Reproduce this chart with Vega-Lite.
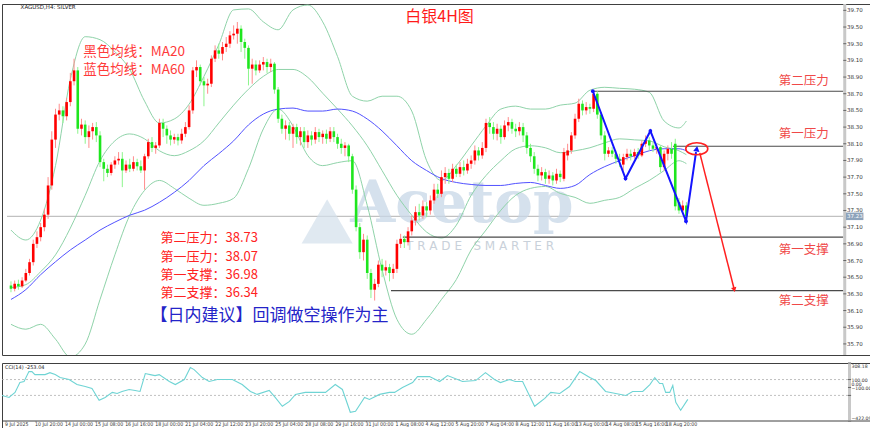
{
"$schema": "https://vega.github.io/schema/vega-lite/v6.json",
"padding": {"left": 1, "top": 2, "right": 0, "bottom": 0},
"background": "#ffffff",
"spacing": 4,
"config": {
  "view": {"stroke": "#404040", "strokeWidth": 1}
},
"datasets": {
  "candles": [
{"i":0,"o":36.40,"h":36.45,"l":36.32,"c":36.36},{"i":1,"o":36.36,"h":36.46,"l":36.33,"c":36.42},{"i":2,"o":36.42,"h":36.47,"l":36.35,"c":36.39},{"i":3,"o":36.39,"h":36.50,"l":36.37,"c":36.46},{"i":4,"o":36.46,"h":36.60,"l":36.44,"c":36.55},
{"i":5,"o":36.55,"h":36.72,"l":36.52,"c":36.68},{"i":6,"o":36.68,"h":36.95,"l":36.64,"c":36.90},{"i":7,"o":36.90,"h":37.05,"l":36.85,"c":36.98},{"i":8,"o":36.98,"h":37.15,"l":36.93,"c":37.10},{"i":9,"o":37.10,"h":37.32,"l":37.05,"c":37.25},
{"i":10,"o":37.25,"h":37.70,"l":37.20,"c":37.60},{"i":11,"o":37.60,"h":38.25,"l":37.55,"c":38.15},{"i":12,"o":38.15,"h":38.52,"l":38.05,"c":38.45},{"i":13,"o":38.45,"h":38.58,"l":38.38,"c":38.50},{"i":14,"o":38.50,"h":38.55,"l":38.35,"c":38.43},
{"i":15,"o":38.43,"h":38.65,"l":38.38,"c":38.60},{"i":16,"o":38.60,"h":38.95,"l":38.55,"c":38.85},{"i":17,"o":38.85,"h":39.12,"l":38.80,"c":38.98},{"i":18,"o":38.98,"h":39.02,"l":38.22,"c":38.28},{"i":19,"o":38.28,"h":38.40,"l":38.20,"c":38.33},
{"i":20,"o":38.33,"h":38.38,"l":38.10,"c":38.18},{"i":21,"o":38.18,"h":38.32,"l":38.05,"c":38.25},{"i":22,"o":38.25,"h":38.35,"l":38.15,"c":38.30},{"i":23,"o":38.30,"h":38.36,"l":38.12,"c":38.20},{"i":24,"o":38.20,"h":38.25,"l":37.82,"c":37.88},
{"i":25,"o":37.88,"h":37.92,"l":37.65,"c":37.80},{"i":26,"o":37.80,"h":37.85,"l":37.70,"c":37.75},{"i":27,"o":37.75,"h":37.88,"l":37.72,"c":37.85},{"i":28,"o":37.85,"h":37.95,"l":37.80,"c":37.90},{"i":29,"o":37.90,"h":38.00,"l":37.85,"c":37.92},
{"i":30,"o":37.92,"h":38.00,"l":37.58,"c":37.78},{"i":31,"o":37.78,"h":37.90,"l":37.75,"c":37.85},{"i":32,"o":37.85,"h":37.92,"l":37.76,"c":37.80},{"i":33,"o":37.80,"h":37.95,"l":37.77,"c":37.88},{"i":34,"o":37.88,"h":37.92,"l":37.78,"c":37.83},
{"i":35,"o":37.83,"h":37.90,"l":37.75,"c":37.78},{"i":36,"o":37.78,"h":37.98,"l":37.55,"c":37.95},{"i":37,"o":37.95,"h":38.16,"l":37.92,"c":38.12},{"i":38,"o":38.12,"h":38.18,"l":38.00,"c":38.05},{"i":39,"o":38.05,"h":38.12,"l":37.98,"c":38.08},
{"i":40,"o":38.08,"h":38.40,"l":38.05,"c":38.35},{"i":41,"o":38.35,"h":38.40,"l":38.18,"c":38.28},{"i":42,"o":38.28,"h":38.32,"l":38.10,"c":38.20},{"i":43,"o":38.20,"h":38.26,"l":38.08,"c":38.15},{"i":44,"o":38.15,"h":38.22,"l":38.10,"c":38.18},
{"i":45,"o":38.18,"h":38.22,"l":38.08,"c":38.14},{"i":46,"o":38.14,"h":38.28,"l":38.10,"c":38.22},{"i":47,"o":38.22,"h":38.36,"l":38.18,"c":38.30},{"i":48,"o":38.30,"h":38.56,"l":38.27,"c":38.50},{"i":49,"o":38.50,"h":39.02,"l":38.46,"c":38.98},
{"i":50,"o":38.98,"h":39.10,"l":38.90,"c":39.02},{"i":51,"o":39.02,"h":39.05,"l":38.80,"c":38.85},{"i":52,"o":38.85,"h":38.90,"l":38.55,"c":38.80},{"i":53,"o":38.80,"h":38.88,"l":38.70,"c":38.82},{"i":54,"o":38.82,"h":39.16,"l":38.78,"c":39.12},
{"i":55,"o":39.12,"h":39.28,"l":39.08,"c":39.22},{"i":56,"o":39.22,"h":39.30,"l":39.12,"c":39.18},{"i":57,"o":39.18,"h":39.32,"l":39.10,"c":39.26},{"i":58,"o":39.26,"h":39.38,"l":39.20,"c":39.30},{"i":59,"o":39.30,"h":39.45,"l":39.25,"c":39.40},
{"i":60,"o":39.40,"h":39.52,"l":39.35,"c":39.42},{"i":61,"o":39.42,"h":39.56,"l":39.30,"c":39.48},{"i":62,"o":39.48,"h":39.52,"l":39.20,"c":39.32},{"i":63,"o":39.32,"h":39.36,"l":39.12,"c":39.25},{"i":64,"o":39.25,"h":39.28,"l":38.80,"c":39.00},
{"i":65,"o":39.00,"h":39.12,"l":38.82,"c":39.05},{"i":66,"o":39.05,"h":39.10,"l":38.92,"c":38.98},{"i":67,"o":38.98,"h":39.10,"l":38.95,"c":39.05},{"i":68,"o":39.05,"h":39.14,"l":38.98,"c":39.08},{"i":69,"o":39.08,"h":39.12,"l":38.95,"c":39.02},
{"i":70,"o":39.02,"h":39.12,"l":38.96,"c":39.06},{"i":71,"o":39.06,"h":39.08,"l":38.70,"c":38.75},{"i":72,"o":38.75,"h":38.78,"l":38.35,"c":38.40},{"i":73,"o":38.40,"h":38.45,"l":38.22,"c":38.28},{"i":74,"o":38.28,"h":38.38,"l":38.15,"c":38.32},
{"i":75,"o":38.32,"h":38.36,"l":38.14,"c":38.22},{"i":76,"o":38.22,"h":38.34,"l":38.05,"c":38.30},{"i":77,"o":38.30,"h":38.34,"l":38.10,"c":38.18},{"i":78,"o":38.18,"h":38.30,"l":38.08,"c":38.25},{"i":79,"o":38.25,"h":38.30,"l":38.05,"c":38.12},
{"i":80,"o":38.12,"h":38.26,"l":38.05,"c":38.20},{"i":81,"o":38.20,"h":38.25,"l":38.08,"c":38.15},{"i":82,"o":38.15,"h":38.30,"l":38.10,"c":38.24},{"i":83,"o":38.24,"h":38.28,"l":38.12,"c":38.18},{"i":84,"o":38.18,"h":38.26,"l":38.10,"c":38.22},
{"i":85,"o":38.22,"h":38.27,"l":38.10,"c":38.16},{"i":86,"o":38.16,"h":38.30,"l":38.12,"c":38.25},{"i":87,"o":38.25,"h":38.30,"l":38.12,"c":38.18},{"i":88,"o":38.18,"h":38.22,"l":38.04,"c":38.10},{"i":89,"o":38.10,"h":38.16,"l":37.98,"c":38.05},
{"i":90,"o":38.05,"h":38.12,"l":37.95,"c":38.08},{"i":91,"o":38.08,"h":38.10,"l":37.88,"c":37.95},{"i":92,"o":37.95,"h":37.98,"l":37.50,"c":37.55},{"i":93,"o":37.55,"h":37.60,"l":37.05,"c":37.10},{"i":94,"o":37.10,"h":37.15,"l":36.72,"c":36.80},
{"i":95,"o":36.80,"h":37.02,"l":36.70,"c":36.95},{"i":96,"o":36.95,"h":37.00,"l":36.48,"c":36.55},{"i":97,"o":36.55,"h":36.60,"l":36.25,"c":36.35},{"i":98,"o":36.35,"h":36.48,"l":36.22,"c":36.42},{"i":99,"o":36.42,"h":36.70,"l":36.38,"c":36.65},
{"i":100,"o":36.65,"h":36.72,"l":36.50,"c":36.58},{"i":101,"o":36.58,"h":36.70,"l":36.52,"c":36.62},{"i":102,"o":36.62,"h":36.66,"l":36.45,"c":36.55},{"i":103,"o":36.55,"h":36.66,"l":36.48,"c":36.60},{"i":104,"o":36.60,"h":36.95,"l":36.55,"c":36.90},
{"i":105,"o":36.90,"h":37.02,"l":36.85,"c":36.96},{"i":106,"o":36.96,"h":37.00,"l":36.85,"c":36.92},{"i":107,"o":36.92,"h":37.10,"l":36.88,"c":37.05},{"i":108,"o":37.05,"h":37.24,"l":37.00,"c":37.18},{"i":109,"o":37.18,"h":37.35,"l":37.12,"c":37.28},
{"i":110,"o":37.28,"h":37.38,"l":37.18,"c":37.24},{"i":111,"o":37.24,"h":37.42,"l":37.20,"c":37.35},{"i":112,"o":37.35,"h":37.40,"l":37.22,"c":37.30},{"i":113,"o":37.30,"h":37.48,"l":37.25,"c":37.42},{"i":114,"o":37.42,"h":37.62,"l":37.38,"c":37.55},
{"i":115,"o":37.55,"h":37.62,"l":37.45,"c":37.50},{"i":116,"o":37.50,"h":37.78,"l":37.46,"c":37.70},{"i":117,"o":37.70,"h":37.82,"l":37.62,"c":37.75},{"i":118,"o":37.75,"h":37.80,"l":37.62,"c":37.68},{"i":119,"o":37.68,"h":37.86,"l":37.64,"c":37.80},
{"i":120,"o":37.80,"h":37.85,"l":37.70,"c":37.74},{"i":121,"o":37.74,"h":37.88,"l":37.70,"c":37.82},{"i":122,"o":37.82,"h":37.90,"l":37.72,"c":37.78},{"i":123,"o":37.78,"h":37.92,"l":37.74,"c":37.86},{"i":124,"o":37.86,"h":37.96,"l":37.80,"c":37.90},
{"i":125,"o":37.90,"h":38.08,"l":37.85,"c":38.02},{"i":126,"o":38.02,"h":38.06,"l":37.90,"c":37.96},{"i":127,"o":37.96,"h":38.12,"l":37.92,"c":38.05},{"i":128,"o":38.05,"h":38.40,"l":38.00,"c":38.35},{"i":129,"o":38.35,"h":38.42,"l":38.22,"c":38.30},
{"i":130,"o":38.30,"h":38.36,"l":38.15,"c":38.22},{"i":131,"o":38.22,"h":38.34,"l":38.14,"c":38.28},{"i":132,"o":38.28,"h":38.32,"l":38.10,"c":38.18},{"i":133,"o":38.18,"h":38.38,"l":38.15,"c":38.32},{"i":134,"o":38.32,"h":38.42,"l":38.25,"c":38.36},
{"i":135,"o":38.36,"h":38.40,"l":38.22,"c":38.28},{"i":136,"o":38.28,"h":38.34,"l":38.18,"c":38.25},{"i":137,"o":38.25,"h":38.36,"l":38.20,"c":38.30},{"i":138,"o":38.30,"h":38.35,"l":38.12,"c":38.20},{"i":139,"o":38.20,"h":38.24,"l":37.98,"c":38.05},
{"i":140,"o":38.05,"h":38.10,"l":37.88,"c":37.95},{"i":141,"o":37.95,"h":38.00,"l":37.74,"c":37.80},{"i":142,"o":37.80,"h":37.85,"l":37.65,"c":37.72},{"i":143,"o":37.72,"h":37.82,"l":37.66,"c":37.76},{"i":144,"o":37.76,"h":37.80,"l":37.62,"c":37.68},
{"i":145,"o":37.68,"h":37.78,"l":37.62,"c":37.72},{"i":146,"o":37.72,"h":37.76,"l":37.60,"c":37.66},{"i":147,"o":37.66,"h":37.80,"l":37.62,"c":37.74},{"i":148,"o":37.74,"h":37.78,"l":37.64,"c":37.70},{"i":149,"o":37.68,"h":38.05,"l":37.65,"c":38.00},
{"i":150,"o":37.96,"h":38.10,"l":37.90,"c":38.02},{"i":151,"o":38.02,"h":38.24,"l":37.98,"c":38.20},{"i":152,"o":38.20,"h":38.46,"l":38.16,"c":38.40},{"i":153,"o":38.40,"h":38.64,"l":38.36,"c":38.58},{"i":154,"o":38.58,"h":38.62,"l":38.44,"c":38.50},
{"i":155,"o":38.50,"h":38.60,"l":38.45,"c":38.54},{"i":156,"o":38.54,"h":38.58,"l":38.46,"c":38.52},{"i":157,"o":38.52,"h":38.74,"l":38.48,"c":38.70},{"i":158,"o":38.70,"h":38.73,"l":38.40,"c":38.45},{"i":159,"o":38.45,"h":38.48,"l":38.15,"c":38.20},
{"i":160,"o":38.20,"h":38.25,"l":37.90,"c":37.98},{"i":161,"o":37.98,"h":38.06,"l":37.94,"c":38.02},{"i":162,"o":38.02,"h":38.06,"l":37.94,"c":37.98},{"i":163,"o":37.98,"h":38.02,"l":37.86,"c":37.92},{"i":164,"o":37.92,"h":37.98,"l":37.82,"c":37.90},
{"i":165,"o":37.85,"h":37.98,"l":37.78,"c":37.94},{"i":166,"o":37.94,"h":38.04,"l":37.90,"c":37.98},{"i":167,"o":37.98,"h":38.03,"l":37.90,"c":37.95},{"i":168,"o":37.95,"h":38.04,"l":37.92,"c":38.00},{"i":169,"o":38.00,"h":38.05,"l":37.92,"c":37.96},
{"i":170,"o":37.96,"h":38.14,"l":37.94,"c":38.10},{"i":171,"o":38.10,"h":38.20,"l":38.06,"c":38.14},{"i":172,"o":38.14,"h":38.18,"l":38.02,"c":38.08},{"i":173,"o":38.08,"h":38.12,"l":38.00,"c":38.04},{"i":174,"o":38.04,"h":38.10,"l":37.98,"c":38.06},
{"i":175,"o":38.06,"h":38.08,"l":37.76,"c":37.82},{"i":176,"o":37.82,"h":38.02,"l":37.78,"c":37.98},{"i":177,"o":37.98,"h":38.08,"l":37.90,"c":38.04},{"i":178,"o":38.04,"h":38.12,"l":37.92,"c":37.98},{"i":179,"o":38.10,"h":38.16,"l":37.30,"c":37.35},
{"i":180,"o":37.40,"h":37.45,"l":37.26,"c":37.30},{"i":181,"o":37.30,"h":37.42,"l":37.28,"c":37.36},{"i":182,"o":37.36,"h":37.40,"l":37.18,"c":37.23}
  ],
  "bands": [
{"i":0,"u":37.065,"m":36.375,"lo":35.935,"ma":36.233},{"i":4,"u":36.946,"m":36.411,"lo":35.876,"ma":36.351},{"i":8,"u":37.184,"m":36.566,"lo":35.935,"ma":36.530},{"i":12,"u":37.838,"m":36.768,"lo":35.757,"ma":36.685},
{"i":16,"u":38.872,"m":37.089,"lo":35.543,"ma":36.827},{"i":20,"u":39.384,"m":37.481,"lo":35.698,"ma":36.946},{"i":24,"u":39.348,"m":37.897,"lo":36.233,"ma":37.065},{"i":28,"u":39.205,"m":38.135,"lo":36.768,"ma":37.160},
{"i":32,"u":38.991,"m":38.218,"lo":37.243,"ma":37.243},{"i":36,"u":38.611,"m":38.159,"lo":37.541,"ma":37.303},{"i":40,"u":38.349,"m":38.016,"lo":37.660,"ma":37.398},{"i":44,"u":38.397,"m":37.957,"lo":37.565,"ma":37.517},
{"i":48,"u":38.575,"m":38.016,"lo":37.446,"ma":37.660},{"i":52,"u":38.908,"m":38.135,"lo":37.362,"ma":37.838},{"i":56,"u":39.289,"m":38.349,"lo":37.386,"ma":37.981},{"i":60,"u":39.705,"m":38.563,"lo":37.446,"ma":38.135},
{"i":64,"u":39.717,"m":38.754,"lo":37.802,"ma":38.326},{"i":68,"u":39.562,"m":38.908,"lo":38.278,"ma":38.456},{"i":72,"u":39.467,"m":38.991,"lo":38.516,"ma":38.516},{"i":76,"u":39.705,"m":38.991,"lo":38.314,"ma":38.528},
{"i":80,"u":39.764,"m":38.896,"lo":37.957,"ma":38.492},{"i":84,"u":39.562,"m":38.706,"lo":37.838,"ma":38.492},{"i":88,"u":39.146,"m":38.516,"lo":37.874,"ma":38.516},{"i":92,"u":38.670,"m":38.314,"lo":37.897,"ma":38.492},
{"i":96,"u":38.611,"m":38.076,"lo":37.362,"ma":38.397},{"i":100,"u":38.670,"m":37.779,"lo":36.590,"ma":38.254},{"i":104,"u":38.670,"m":37.481,"lo":35.995,"ma":38.076},{"i":108,"u":38.492,"m":37.243,"lo":35.816,"ma":37.897},
{"i":112,"u":37.897,"m":37.041,"lo":35.995,"ma":37.779},{"i":116,"u":37.660,"m":36.970,"lo":36.233,"ma":37.683},{"i":120,"u":37.838,"m":37.124,"lo":36.471,"ma":37.636},{"i":124,"u":38.076,"m":37.481,"lo":36.827,"ma":37.612},
{"i":128,"u":38.314,"m":37.719,"lo":37.065,"ma":37.600},{"i":132,"u":38.516,"m":37.897,"lo":37.303,"ma":37.600},{"i":136,"u":38.551,"m":38.040,"lo":37.481,"ma":37.624},{"i":140,"u":38.516,"m":38.076,"lo":37.565,"ma":37.636},
{"i":144,"u":38.516,"m":38.052,"lo":37.588,"ma":37.600},{"i":148,"u":38.563,"m":37.993,"lo":37.505,"ma":37.565},{"i":152,"u":38.587,"m":38.016,"lo":37.457,"ma":37.600},{"i":156,"u":38.742,"m":38.052,"lo":37.386,"ma":37.731},
{"i":160,"u":38.777,"m":38.111,"lo":37.422,"ma":37.826},{"i":164,"u":38.765,"m":38.159,"lo":37.457,"ma":37.897},{"i":168,"u":38.754,"m":38.147,"lo":37.565,"ma":37.957},{"i":172,"u":38.718,"m":38.135,"lo":37.660,"ma":38.016},
{"i":176,"u":38.373,"m":38.064,"lo":37.779,"ma":38.040},{"i":180,"u":38.290,"m":38.016,"lo":37.897,"ma":38.040},{"i":182,"u":38.373,"m":37.969,"lo":37.862,"ma":38.016}
  ],
  "cci": [
{"i":-1.1,"v":-100},{"i":0.8,"v":-125},{"i":2.4,"v":-62},{"i":3.7,"v":62},{"i":4.8,"v":75},{"i":6.1,"v":200},{"i":6.9,"v":200},{"i":7.7,"v":162},{"i":10.4,"v":162},{"i":11.7,"v":187},{"i":13.1,"v":162},{"i":14.4,"v":125},{"i":16.8,"v":100},{"i":18.9,"v":37},{"i":21.1,"v":12},{"i":22.9,"v":-12},{"i":24.8,"v":-162},{"i":26.4,"v":-125},{"i":28.3,"v":-62},{"i":29.6,"v":-75},{"i":30.9,"v":-50},{"i":32.8,"v":-25},{"i":34.4,"v":-37},{"i":35.7,"v":-50},{"i":37.1,"v":175},{"i":38.4,"v":162},{"i":39.7,"v":150},{"i":40.8,"v":162},{"i":43.5,"v":75},{"i":45.1,"v":37},{"i":47.5,"v":100},{"i":49.1,"v":250},{"i":50.1,"v":225},{"i":52.3,"v":125},{"i":54.1,"v":75},{"i":56.3,"v":100},{"i":60.3,"v":100},{"i":62.9,"v":37},{"i":65.1,"v":-50},{"i":66.9,"v":-87},{"i":70.1,"v":-37},{"i":71.7,"v":-125},{"i":73.6,"v":-237},{"i":75.5,"v":-175},{"i":77.1,"v":-87},{"i":79.7,"v":-62},{"i":82.1,"v":-62},{"i":85.1,"v":-62},{"i":87.7,"v":37},{"i":89.6,"v":-25},{"i":91.7,"v":-312},{"i":93.1,"v":-300},{"i":95.5,"v":-125},{"i":96.8,"v":-150},{"i":99.5,"v":-87},{"i":102.1,"v":-62},{"i":103.5,"v":-62},{"i":105.6,"v":0},{"i":108.3,"v":62},{"i":109.6,"v":137},{"i":112.8,"v":137},{"i":115.5,"v":75},{"i":117.6,"v":150},{"i":121.6,"v":75},{"i":125.1,"v":87},{"i":127.7,"v":187},{"i":130.1,"v":100},{"i":131.7,"v":62},{"i":134.1,"v":100},{"i":135.7,"v":75},{"i":137.6,"v":75},{"i":140.8,"v":-237},{"i":143.5,"v":-137},{"i":145.1,"v":-62},{"i":147.5,"v":-75},{"i":150.1,"v":12},{"i":152.8,"v":200},{"i":155.5,"v":125},{"i":157.1,"v":87},{"i":159.7,"v":-50},{"i":162.4,"v":-75},{"i":165.1,"v":-100},{"i":166.9,"v":-50},{"i":169.6,"v":-50},{"i":171.5,"v":37},{"i":172.8,"v":125},{"i":174.1,"v":50},{"i":174.9,"v":50},{"i":175.7,"v":-62},{"i":176.8,"v":-62},{"i":177.6,"v":25},{"i":178.4,"v":-187},{"i":179.7,"v":-287},{"i":181.6,"v":-150}
  ],
  "pticks": [{"p":35.7,"a":224.27,"b":225.1,"lx":225.3},{"p":35.9,"a":224.27,"b":225.1,"lx":225.3},{"p":36.1,"a":224.27,"b":225.1,"lx":225.3},{"p":36.3,"a":224.27,"b":225.1,"lx":225.3},{"p":36.5,"a":224.27,"b":225.1,"lx":225.3},{"p":36.7,"a":224.27,"b":225.1,"lx":225.3},{"p":36.9,"a":224.27,"b":225.1,"lx":225.3},{"p":37.1,"a":224.27,"b":225.1,"lx":225.3},{"p":37.3,"a":224.27,"b":225.1,"lx":225.3},{"p":37.5,"a":224.27,"b":225.1,"lx":225.3},{"p":37.7,"a":224.27,"b":225.1,"lx":225.3},{"p":37.9,"a":224.27,"b":225.1,"lx":225.3},{"p":38.1,"a":224.27,"b":225.1,"lx":225.3},{"p":38.3,"a":224.27,"b":225.1,"lx":225.3},{"p":38.5,"a":224.27,"b":225.1,"lx":225.3},{"p":38.7,"a":224.27,"b":225.1,"lx":225.3},{"p":38.9,"a":224.27,"b":225.1,"lx":225.3},{"p":39.1,"a":224.27,"b":225.1,"lx":225.3},{"p":39.3,"a":224.27,"b":225.1,"lx":225.3},{"p":39.5,"a":224.27,"b":225.1,"lx":225.3},{"p":39.7,"a":224.27,"b":225.1,"lx":225.3}],
  "cticks": [{"v":308.18,"ly":261.6,"a":224.27,"b":225.1,"lx":225.2},{"v":100,"ly":81.5,"a":224.27,"b":225.1,"lx":225.2},{"v":0,"ly":27.4,"a":224.27,"b":225.1,"lx":225.2},{"v":-100,"ly":-15.4,"a":224.27,"b":225.1,"lx":225.2},{"v":-422.09,"ly":-393.1,"a":224.27,"b":225.1,"lx":225.2}],
  "tlabels": [{"i":0,"t":"9 Jul 2025"},{"i":8,"t":"10 Jul 20:00"},{"i":16,"t":"14 Jul 00:00"},{"i":24,"t":"15 Jul 08:00"},{"i":32,"t":"16 Jul 16:00"},{"i":40,"t":"18 Jul 00:00"},{"i":48,"t":"21 Jul 04:00"},{"i":56,"t":"22 Jul 12:00"},{"i":64,"t":"23 Jul 20:00"},{"i":72,"t":"25 Jul 04:00"},{"i":80,"t":"28 Jul 08:00"},{"i":88,"t":"29 Jul 16:00"},{"i":96,"t":"31 Jul 00:00"},{"i":104,"t":"1 Aug 08:00"},{"i":112,"t":"4 Aug 12:00"},{"i":120,"t":"5 Aug 20:00"},{"i":128,"t":"7 Aug 04:00"},{"i":136,"t":"8 Aug 12:00"},{"i":144,"t":"11 Aug 16:00"},{"i":152,"t":"13 Aug 00:00"},{"i":160,"t":"14 Aug 08:00"},{"i":168,"t":"15 Aug 16:00"},{"i":176,"t":"18 Aug 20:00"}],
  "tpos": [{"i":0,"v":-422.09,"v2":-432,"ly":-437},{"i":8,"v":-422.09,"v2":-432,"ly":-437},{"i":16,"v":-422.09,"v2":-432,"ly":-437},{"i":24,"v":-422.09,"v2":-432,"ly":-437},{"i":32,"v":-422.09,"v2":-432,"ly":-437},{"i":40,"v":-422.09,"v2":-432,"ly":-437},{"i":48,"v":-422.09,"v2":-432,"ly":-437},{"i":56,"v":-422.09,"v2":-432,"ly":-437},{"i":64,"v":-422.09,"v2":-432,"ly":-437},{"i":72,"v":-422.09,"v2":-432,"ly":-437},{"i":80,"v":-422.09,"v2":-432,"ly":-437},{"i":88,"v":-422.09,"v2":-432,"ly":-437},{"i":96,"v":-422.09,"v2":-432,"ly":-437},{"i":104,"v":-422.09,"v2":-432,"ly":-437},{"i":112,"v":-422.09,"v2":-432,"ly":-437},{"i":120,"v":-422.09,"v2":-432,"ly":-437},{"i":128,"v":-422.09,"v2":-432,"ly":-437},{"i":136,"v":-422.09,"v2":-432,"ly":-437},{"i":144,"v":-422.09,"v2":-432,"ly":-437},{"i":152,"v":-422.09,"v2":-432,"ly":-437},{"i":160,"v":-422.09,"v2":-432,"ly":-437},{"i":168,"v":-422.09,"v2":-432,"ly":-437},{"i":176,"v":-422.09,"v2":-432,"ly":-437}]
},
"vconcat": [
{
  "width": 868, "height": 351,
  "encoding": {
    "x": {"field": "i", "type": "quantitative", "scale": {"domain": [-1.07, 230.13], "nice": false, "zero": false}, "axis": null},
    "y": {"field": "p", "type": "quantitative", "scale": {"domain": [35.567, 39.776], "nice": false, "zero": false}, "axis": null}
  },
  "layer": [
    {"data": {"values": [{"p": 37.23, "x0": -1.07, "x1": 224.27}]}, "mark": {"type": "rule", "color": "#a0a0a0", "strokeWidth": 0.8},
     "encoding": {"x": {"field": "x0", "type": "quantitative"}, "x2": {"field": "x1"}}},
    {"data": {"values": [{"i":85.2,"p":37.17}]}, "mark": {"type": "point", "shape": "triangle-up", "filled": true, "size": 2600, "color": "#d3dfeb", "opacity": 0.7}},
    {"data": {"values": [{"i":121.5,"p":37.36,"t":"Acetop"}]}, "mark": {"type": "text", "font": "DejaVu Serif", "fontWeight": "bold", "fontSize": 58, "color": "#c8d7e7", "opacity": 0.75, "align": "center", "baseline": "middle"},
     "encoding": {"text": {"field": "t"}}},
    {"data": {"values": [{"i":126.4,"p":36.875,"t":"T R A D E \u00a0 S M A R T E R"}]}, "mark": {"type": "text", "font": "DejaVu Sans", "fontSize": 12, "color": "#c9d1da", "align": "center", "baseline": "middle"},
     "encoding": {"text": {"field": "t"}}},
    {"data": {"name": "bands"}, "mark": {"type": "line", "color": "#8fd3a9", "strokeWidth": 1, "interpolate": "monotone", "clip": true},
     "encoding": {"y": {"field": "u", "type": "quantitative"}}},
    {"data": {"name": "bands"}, "mark": {"type": "line", "color": "#8fd3a9", "strokeWidth": 1, "interpolate": "monotone", "clip": true},
     "encoding": {"y": {"field": "m", "type": "quantitative"}}},
    {"data": {"name": "bands"}, "mark": {"type": "line", "color": "#8fd3a9", "strokeWidth": 1, "interpolate": "monotone", "clip": true},
     "encoding": {"y": {"field": "lo", "type": "quantitative"}}},
    {"data": {"name": "bands"}, "mark": {"type": "line", "color": "#5252ff", "strokeWidth": 1, "interpolate": "monotone", "clip": true},
     "encoding": {"y": {"field": "ma", "type": "quantitative"}}},
    {"data": {"values": [{"x0":156.3,"x1":224.27,"p":38.73},{"x0":178.4,"x1":224.27,"p":38.07},{"x0":105.6,"x1":224.27,"p":36.98},{"x0":102.4,"x1":224.27,"p":36.34}]}, "mark": {"type": "rule", "color": "#4a4a4a", "strokeWidth": 1.2},
     "encoding": {"x": {"field": "x0", "type": "quantitative"}, "x2": {"field": "x1"}}},
    {"data": {"name": "candles"}, "mark": {"type": "rule", "strokeWidth": 1, "clip": true},
     "encoding": {"y": {"field": "l", "type": "quantitative"}, "y2": {"field": "h"},
                  "color": {"condition": {"test": "datum.c >= datum.o", "value": "#ff8c8c"}, "value": "#8cf58c"}}},
    {"data": {"name": "candles"}, "mark": {"type": "bar", "size": 2.6, "clip": true},
     "encoding": {"y": {"field": "o", "type": "quantitative"}, "y2": {"field": "c"},
                  "color": {"condition": {"test": "datum.c >= datum.o", "value": "#ff0000"}, "value": "#1ee61e"}}},
    {"data": {"values": [{"i":156.8,"p":38.73},{"i":165.6,"p":37.683},{"i":172.3,"p":38.254},{"i":181.9,"p":37.172},{"i":184.6,"p":38.0}]}, "mark": {"type": "line", "color": "#1414ff", "strokeWidth": 2}},
    {"data": {"values": [{"i":156.8,"p":38.73},{"i":165.6,"p":37.683},{"i":172.3,"p":38.254},{"i":181.9,"p":37.172}]}, "mark": {"type": "point", "shape": "circle", "filled": true, "size": 14, "color": "#1414ff", "opacity": 1}},
    {"data": {"values": [{"i":184.8,"p":38.04}]}, "mark": {"type": "point", "shape": "triangle-up", "filled": true, "size": 40, "angle": 9, "color": "#1414ff", "opacity": 1}},
    {"data": {"values": [{"i":184.8,"p":38.04}]}, "mark": {"type": "point", "shape": "M -1 0 A 1 0.55 0 1 0 1 0 A 1 0.55 0 1 0 -1 0 Z", "filled": false, "size": 484, "color": "#ff2020", "strokeWidth": 1.6, "opacity": 1}},
    {"data": {"values": [{"i":185.6,"p":37.99},{"i":194.8,"p":36.37}]}, "mark": {"type": "line", "color": "#ff2020", "strokeWidth": 1.5}},
    {"data": {"values": [{"i":194.9,"p":36.35}]}, "mark": {"type": "point", "shape": "triangle-down", "filled": true, "size": 30, "angle": -14, "color": "#ff2020", "opacity": 1}},
    {"data": {"values": [{"i":115.5,"p":39.62,"t":"白银4H图"}]}, "mark": {"type": "text", "font": "Noto Sans CJK SC", "fontSize": 16, "color": "#ff1a1a", "align": "center", "baseline": "middle"},
     "encoding": {"text": {"field": "t"}}},
    {"data": {"values": [{"i":19.5,"p":39.205,"t":"黑色均线：MA20"},{"i":19.5,"p":38.99,"t":"蓝色均线：MA60"}]}, "mark": {"type": "text", "font": "Noto Sans CJK SC", "fontSize": 13.5, "color": "#ff3a3a", "align": "left", "baseline": "middle"},
     "encoding": {"text": {"field": "t"}}},
    {"data": {"values": [{"i":40.3,"p":36.97,"t":"第二压力：38.73"},{"i":40.3,"p":36.745,"t":"第一压力：38.07"},{"i":40.3,"p":36.53,"t":"第一支撑：36.98"},{"i":40.3,"p":36.315,"t":"第二支撑：36.34"}]}, "mark": {"type": "text", "font": "Noto Sans CJK SC", "fontSize": 13, "color": "#ff2222", "align": "left", "baseline": "middle"},
     "encoding": {"text": {"field": "t"}}},
    {"data": {"values": [{"i":37.6,"p":36.04,"t":"【日内建议】回调做空操作为主"}]}, "mark": {"type": "text", "font": "Noto Sans CJK SC", "fontSize": 17, "color": "#2424c8", "align": "left", "baseline": "middle"},
     "encoding": {"text": {"field": "t"}}},
    {"data": {"values": [{"i":213.6,"p":38.85,"t":"第二压力"},{"i":213.6,"p":38.22,"t":"第一压力"},{"i":213.6,"p":36.83,"t":"第一支撑"},{"i":213.6,"p":36.21,"t":"第二支撑"}]}, "mark": {"type": "text", "font": "Noto Sans CJK SC", "fontSize": 12.5, "color": "#f04848", "align": "center", "baseline": "middle"},
     "encoding": {"text": {"field": "t"}}},
    {"data": {"values": [{"i":2.6,"p":39.735,"t":"XAGUSD,H4: SILVER"}]}, "mark": {"type": "text", "font": "DejaVu Sans", "fontSize": 5.5, "color": "#222222", "align": "left", "baseline": "middle"},
     "encoding": {"text": {"field": "t"}}},
    {"data": {"values": [{"i": 224.67, "p": 35.567, "p2": 39.776}]}, "mark": {"type": "rule", "color": "#c8c8c8", "strokeWidth": 3},
     "encoding": {"y2": {"field": "p2"}}},
    {"data": {"name": "pticks"}, "mark": {"type": "rule", "color": "#666666", "strokeWidth": 1},
     "encoding": {"x": {"field": "a", "type": "quantitative"}, "x2": {"field": "b"}}},
    {"data": {"name": "pticks"}, "mark": {"type": "text", "font": "DejaVu Sans", "fontSize": 5.5, "color": "#333333", "align": "left", "baseline": "middle"},
     "encoding": {"x": {"field": "lx", "type": "quantitative"}, "text": {"field": "p", "type": "quantitative", "format": ".2f"}}},
    {"data": {"values": [{"p": 37.23, "a": 225.0, "b": 229.7, "lo": 37.185, "hi": 37.275, "lx": 225.3}]}, "mark": {"type": "rect", "color": "#8da3bb"},
     "encoding": {"x": {"field": "a", "type": "quantitative"}, "x2": {"field": "b"}, "y": {"field": "lo", "type": "quantitative"}, "y2": {"field": "hi"}}},
    {"data": {"values": [{"p": 37.23, "lx": 225.3}]}, "mark": {"type": "text", "font": "DejaVu Sans", "fontSize": 5.5, "color": "#ffffff", "align": "left", "baseline": "middle"},
     "encoding": {"x": {"field": "lx", "type": "quantitative"}, "text": {"field": "p", "type": "quantitative", "format": ".2f"}}}
  ]
},
{
  "width": 868, "height": 66,
  "encoding": {
    "x": {"field": "i", "type": "quantitative", "scale": {"domain": [-1.07, 230.13], "nice": false, "zero": false}, "axis": null},
    "y": {"field": "v", "type": "quantitative", "scale": {"domain": [-522.8, 308.18], "nice": false, "zero": false}, "axis": null}
  },
  "layer": [
    {"data": {"values": [{"v": 100, "x0": -1.07, "x1": 224.27}, {"v": -100, "x0": -1.07, "x1": 224.27}]}, "mark": {"type": "rule", "color": "#b0b0b0", "strokeWidth": 0.8, "strokeDash": [2, 2]},
     "encoding": {"x": {"field": "x0", "type": "quantitative"}, "x2": {"field": "x1"}}},
    {"data": {"name": "cci"}, "mark": {"type": "line", "color": "#6fd4d4", "strokeWidth": 1.1, "clip": true}},
    {"data": {"values": [{"i": -0.3, "v": 262, "t": "CCI(14) -253.04"}]}, "mark": {"type": "text", "font": "DejaVu Sans", "fontSize": 5, "color": "#222222", "align": "left", "baseline": "middle"},
     "encoding": {"text": {"field": "t"}}},
    {"data": {"values": [{"v": -422.09, "x0": -1.07, "x1": 230.13}]}, "mark": {"type": "rule", "color": "#404040", "strokeWidth": 1},
     "encoding": {"x": {"field": "x0", "type": "quantitative"}, "x2": {"field": "x1"}}},
    {"data": {"values": [{"i": 224.67, "v": 308.18, "v2": -422.09}]}, "mark": {"type": "rule", "color": "#c8c8c8", "strokeWidth": 3},
     "encoding": {"y2": {"field": "v2"}}},
    {"data": {"name": "cticks"}, "mark": {"type": "rule", "color": "#666666", "strokeWidth": 1},
     "encoding": {"x": {"field": "a", "type": "quantitative"}, "x2": {"field": "b"}}},
    {"data": {"name": "cticks"}, "mark": {"type": "text", "font": "DejaVu Sans", "fontSize": 4.6, "color": "#333333", "align": "left", "baseline": "middle"},
     "encoding": {"x": {"field": "lx", "type": "quantitative"}, "y": {"field": "ly", "type": "quantitative"}, "text": {"field": "v", "type": "quantitative", "format": ".2f"}}},
    {"data": {"name": "tpos"}, "mark": {"type": "rule", "color": "#666666", "strokeWidth": 1},
     "encoding": {"y2": {"field": "v2"}}},
    {"data": {"name": "tlabels"}, "transform": [{"lookup": "i", "from": {"data": {"name": "tpos"}, "key": "i", "fields": ["ly"]}}],
     "mark": {"type": "text", "font": "Liberation Sans Narrow, DejaVu Sans Condensed, DejaVu Sans", "fontSize": 5.2, "color": "#333333", "align": "left", "baseline": "top", "dx": -1},
     "encoding": {"y": {"field": "ly", "type": "quantitative"}, "text": {"field": "t"}}}
  ]
}
]
}
